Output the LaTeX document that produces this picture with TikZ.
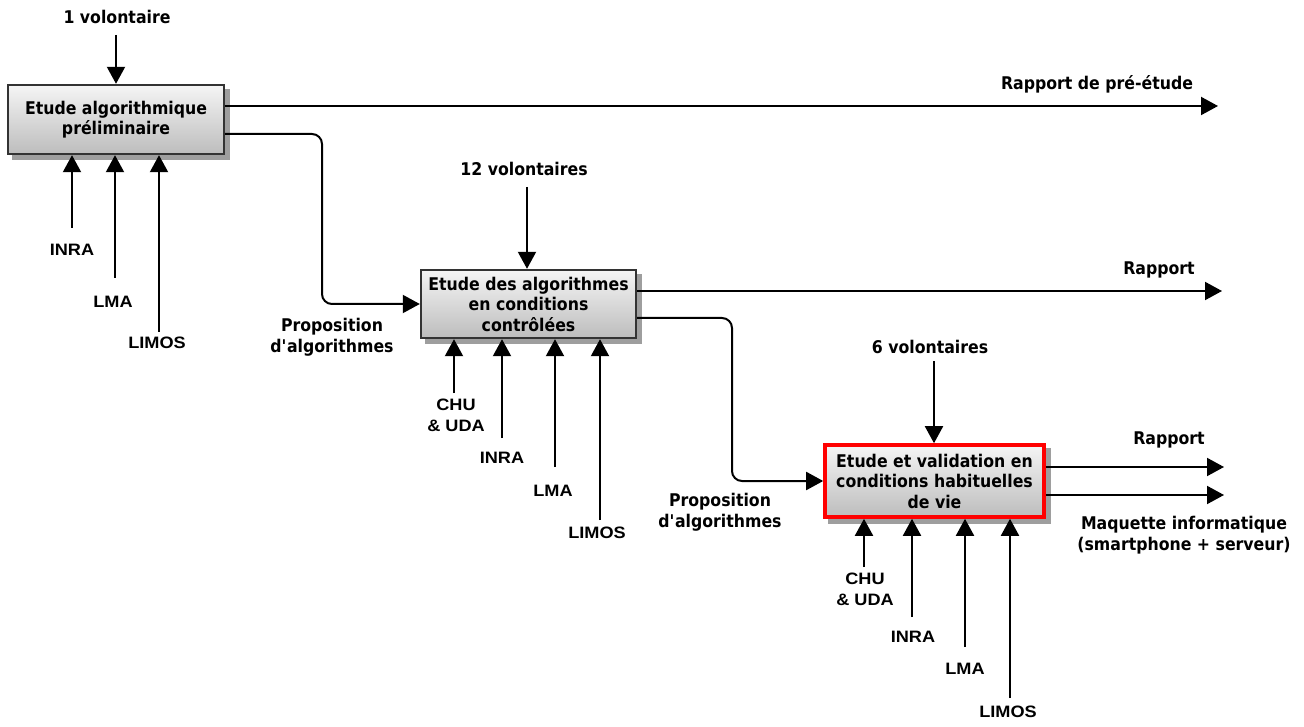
\documentclass[tikz,border=0pt]{standalone}
\usepackage{fontspec}
\usetikzlibrary{arrows.meta,backgrounds}
\newfontfamily\topfont{DejaVu Sans}[FakeStretch=0.9]
\newfontfamily\botfont{Liberation Sans}[FakeStretch=1.1]
\begin{document}
\begin{tikzpicture}[x=1pt,y=-1pt,
  box/.style={draw=black!80, line width=2.4pt, top color=black!4, bottom color=black!26,
    align=center, inner sep=0pt,
    font=\topfont\bfseries\fontsize{17.5}{20.5}\selectfont},
  redbox/.style={box, draw=red, line width=3.6pt},
  shadowfill/.style={fill=black!38},
  arr/.style={line width=2pt, -{Triangle[length=17pt,width=18pt]}},
  toplbl/.style={inner sep=0pt, align=center, font=\topfont\bfseries\fontsize{17.5}{20.5}\selectfont},
  botlbl/.style={inner sep=0pt, align=center, font=\botfont\bfseries\fontsize{16.5}{21}\selectfont}]
\useasboundingbox (0,0) rectangle (1304,727);

% boxes
\node[box, minimum width=216pt, minimum height=69pt] (b1) at (116,119.5)
  {Etude algorithmique\\préliminaire};
\node[box, minimum width=215pt, minimum height=68pt] (b2) at (528.5,304)
  {Etude des algorithmes\\en conditions\\contrôlées};
\node[redbox, minimum width=219pt, minimum height=72pt] (b3) at (934.5,481)
  {Etude et validation en\\conditions habituelles\\de vie};

\begin{scope}[on background layer]
  \foreach \b in {b1,b2,b3}
    \fill[shadowfill] ([xshift=5pt,yshift=-5pt]\b.south west) rectangle ([xshift=5pt,yshift=-5pt]\b.north east);
\end{scope}

% labels
\node[toplbl] (l1) at (117,17) {1 volontaire};
\node[toplbl] (lr1) at (1097,84) {Rapport de pré-étude};
\node[toplbl] (l2) at (524,169) {12 volontaires};
\node[toplbl] (lr2) at (1159,270) {Rapport};
\node[toplbl] (lp1) at (332,337) {Proposition\\d\textquotesingle algorithmes};
\node[toplbl] (l3) at (930,347) {6 volontaires};
\node[toplbl] (lr3) at (1169,440) {Rapport};
\node[toplbl] (lp2) at (720,512) {Proposition\\d\textquotesingle algorithmes};
\node[toplbl] (lm) at (1184,535) {Maquette informatique\\(smartphone + serveur)};

\node[botlbl] (a1) at (72,250) {INRA};
\node[botlbl] (a2) at (113,302) {LMA};
\node[botlbl] (a3) at (157,343) {LIMOS};
\node[botlbl] (c0) at (456,415) {CHU\\\& UDA};
\node[botlbl] (c1) at (502,458) {INRA};
\node[botlbl] (c2) at (553,491) {LMA};
\node[botlbl] (c3) at (597,533) {LIMOS};
\node[botlbl] (d0) at (865,589) {CHU\\\& UDA};
\node[botlbl] (d1) at (913,637) {INRA};
\node[botlbl] (d2) at (965,669) {LMA};
\node[botlbl] (d3) at (1008,712) {LIMOS};

% coordinates for free ends
\coordinate (v1) at (116,35);
\coordinate (v2) at (527,187);
\coordinate (v3) at (934,361);
\coordinate (i1a) at (72,228);
\coordinate (i1b) at (115,278);
\coordinate (i1c) at (159,332);
\coordinate (i2a) at (454,393);
\coordinate (i2b) at (502,438);
\coordinate (i2c) at (555,467);
\coordinate (i2d) at (600,520);
\coordinate (i3a) at (864,567);
\coordinate (i3b) at (912,617);
\coordinate (i3c) at (965,647);
\coordinate (i3d) at (1010,698);
\coordinate (o1a) at (1218,106);
\coordinate (o1b) at (322,134);
\coordinate (o2a) at (1222,291);
\coordinate (o2b) at (732,318);
\coordinate (o3a) at (1224,467);
\coordinate (o3b) at (1224,495);

% controls
\draw[arr] (v1) -- (v1 |- b1.north);
\draw[arr] (v2) -- (v2 |- b2.north);
\draw[arr] (v3) -- (v3 |- b3.north);

% mechanisms
\foreach \c in {i1a,i1b,i1c} \draw[arr] (\c) -- (\c |- b1.south);
\foreach \c in {i2a,i2b,i2c,i2d} \draw[arr] (\c) -- (\c |- b2.south);
\foreach \c in {i3a,i3b,i3c,i3d} \draw[arr] (\c) -- (\c |- b3.south);

% outputs
\draw[arr] (b1.east |- o1a) -- (o1a);
\draw[arr, rounded corners=10pt] (b1.east |- o1b) -- (o1b) -- (o1b |- b2.west) -- (b2.west);
\draw[arr] (b2.east |- o2a) -- (o2a);
\draw[arr, rounded corners=10pt] (b2.east |- o2b) -- (o2b) -- (o2b |- b3.west) -- (b3.west);
\draw[arr] (b3.east |- o3a) -- (o3a);
\draw[arr] (b3.east |- o3b) -- (o3b);
\end{tikzpicture}
\end{document}
